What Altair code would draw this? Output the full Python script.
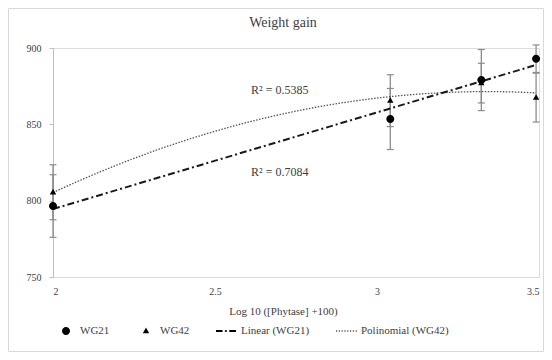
import altair as alt
import pandas as pd

# ---- data ----
x_vals = [2.0, 3.041, 3.322, 3.491]
wg21 = [796.5, 853.5, 879.0, 893.0]
wg21_err = [20.5, 20.0, 20.0, 9.0]
wg42 = [805.5, 865.5, 877.0, 867.5]
wg42_err = [18.0, 17.0, 13.0, 16.0]

series = ["WG21", "WG42", "Linear (WG21)", "Polinomial (WG42)"]
r2_labels = ["R² = 0.5385", "R² = 0.7084"]
r2_x = [2.70, 2.70]
r2_y = [872.5, 819.0]
x_ticks = [2, 2.5, 3, 3.5]
y_ticks = [750, 800, 850, 900]

rows = []
for s, vals, errs in (("WG21", wg21, wg21_err), ("WG42", wg42, wg42_err)):
    for x, v, e in zip(x_vals, vals, errs):
        rows.append({"x": x, "value": v, "lo": v - e, "hi": v + e, "series": s})
df = pd.DataFrame(rows)
ann = pd.DataFrame({"x": r2_x, "y": r2_y, "label": r2_labels})

FONT = "Liberation Serif"
TXT = "#404040"

# symbol paths (unit box scaled by sqrt(size)/2)
circle_path = "M0.4,0A0.4,0.4,0,1,1,-0.4,0A0.4,0.4,0,1,1,0.4,0Z"
tri_path = "M0,-0.34L0.32,0.22L-0.32,0.22Z"
dashdot_path = ("M-1.1,-0.09L-0.45,-0.09L-0.45,0.09L-1.1,0.09Z"
                "M-0.22,-0.07L0.0,-0.07L0.0,0.07L-0.22,0.07Z"
                "M0.23,-0.09L0.9,-0.09L0.9,0.09L0.23,0.09Z")
dots = []
for k in range(8):
    x0 = -1.1 + 0.28 * k
    dots.append(f"M{x0:.2f},-0.05L{x0+0.12:.2f},-0.05L{x0+0.12:.2f},0.05L{x0:.2f},0.05Z")
dotted_path = "".join(dots)

xs = alt.Scale(domain=[2, 3.5], nice=False, zero=False)
ys = alt.Scale(domain=[750, 900], nice=False, zero=False)

x_enc = alt.X("x:Q", scale=xs, title="Log 10 ([Phytase] +100)",
              axis=alt.Axis(values=x_ticks, format="~g", grid=False, ticks=False,
                            domainColor="#d9d9d9", labelFont=FONT, labelFontSize=10,
                            labelColor=TXT, labelPadding=9, titleFont=FONT,
                            titleFontSize=11, titleFontWeight="normal", titleColor=TXT,
                            titlePadding=9, titleX=230))
y_enc = alt.Y("value:Q", scale=ys, title=None,
              axis=alt.Axis(values=y_ticks, format="d", grid=False, tickSize=4,
                            tickColor="#bfbfbf", domainColor="#bfbfbf",
                            labelFont=FONT, labelFontSize=10, labelColor=TXT,
                            labelPadding=8))

base = alt.Chart(df)

border = alt.Chart(pd.DataFrame({"a": [0]})).mark_rect(
    fill=None, stroke="#d9d9d9", strokeWidth=1
).encode(x=alt.value(-44.5), x2=alt.value(490.5), y=alt.value(-39.5), y2=alt.value(303.5))

rules = base.mark_rule(color="#8c8c8c", strokeWidth=1.3).encode(
    x=x_enc, y=alt.Y("lo:Q", scale=ys), y2="hi:Q")
cap_lo = base.mark_point(shape="stroke", size=49, stroke="#8c8c8c", strokeWidth=1.2,
                         opacity=1).encode(x="x:Q", y=alt.Y("lo:Q", scale=ys))
cap_hi = base.mark_point(shape="stroke", size=49, stroke="#8c8c8c", strokeWidth=1.2,
                         opacity=1).encode(x="x:Q", y=alt.Y("hi:Q", scale=ys))

lin = base.transform_filter(alt.datum.series == "WG21").transform_regression(
    "x", "value", method="linear").mark_line(
    color="#1a1a1a", strokeWidth=2, strokeDash=[7, 3, 2, 3]).encode(x="x:Q", y=alt.Y("value:Q", scale=ys))
poly = base.transform_filter(alt.datum.series == "WG42").transform_regression(
    "x", "value", method="poly", order=2).mark_line(
    color="#555555", strokeWidth=1.3, strokeDash=[1.5, 1.5]).encode(x="x:Q", y=alt.Y("value:Q", scale=ys))

points = base.mark_point(filled=True, size=400, opacity=1, color="black").encode(
    x=x_enc, y=y_enc,
    shape=alt.Shape("series:N",
                    scale=alt.Scale(domain=series,
                                    range=[circle_path, tri_path, dashdot_path, dotted_path]),
                    legend=alt.Legend(title=None, orient="none", direction="horizontal",
                                      columns=4, legendX=3, legendY=273,
                                      symbolSize=400, symbolFillColor="black",
                                      symbolStrokeWidth=0, symbolOpacity=1,
                                      labelFont=FONT, labelFontSize=11, labelColor=TXT,
                                      labelOffset=4, columnPadding=26)))

texts = alt.Chart(ann).mark_text(font=FONT, fontSize=12, color=TXT).encode(
    x=alt.X("x:Q", scale=xs), y=alt.Y("y:Q", scale=ys), text="label:N")

chart = alt.layer(border, rules, cap_lo, cap_hi, poly, lin, points, texts).properties(
    width=486, height=229,
    title=alt.Title("Weight gain", font=FONT, fontSize=14, fontWeight="normal",
                    color=TXT, anchor="middle", dx=-13, offset=-22),
    autosize=alt.AutoSizeParams(type="none"),
    padding={"left": 45, "top": 40, "right": 5, "bottom": 75},
).configure_view(stroke=None).configure(background="white")

chart.save("out.html", embed_options={"renderer": "svg", "actions": False})
